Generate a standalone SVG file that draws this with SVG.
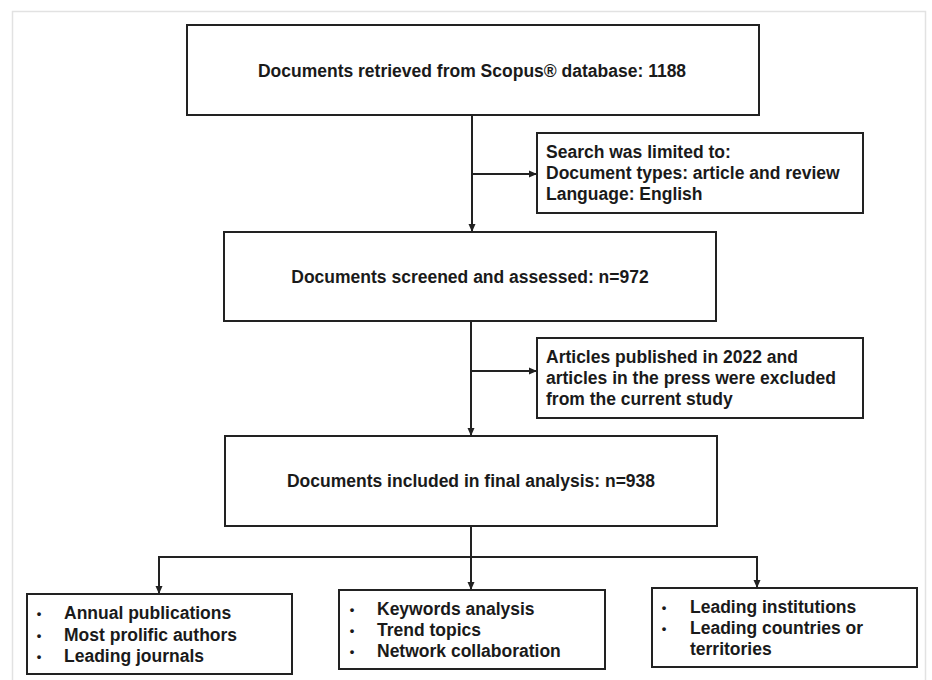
<svg xmlns="http://www.w3.org/2000/svg" width="932" height="680" viewBox="0 0 932 680">
  <defs>
    <style>
      .box { fill: #ffffff; stroke: #222222; stroke-width: 2; }
      .txt { font-family: "Liberation Sans", Arial, sans-serif; font-weight: bold; font-size: 17.5px; fill: #1a1a1a; }
      .mid { text-anchor: middle; }
      .bul { font-family: "Liberation Sans", Arial, sans-serif; font-weight: bold; font-size: 13px; fill: #1a1a1a; text-anchor: middle; }
      .conn { fill: none; stroke: #222222; stroke-width: 2; }
      .frame { fill: none; stroke: #e2e2e2; stroke-width: 1.5; }
    </style>
    <marker id="arrow" viewBox="0 0 8 8" refX="8" refY="4" markerWidth="8" markerHeight="8" markerUnits="userSpaceOnUse" orient="auto">
      <path d="M0,0.5 L8,4 L0,7.5 z" fill="#222222"/>
    </marker>
  </defs>

  <rect width="932" height="680" fill="#ffffff"/>
  <rect class="frame" x="12.5" y="11.5" width="913" height="700"/>

  <g id="connectors">
    <line class="conn" x1="472" y1="115" x2="472" y2="232" marker-end="url(#arrow)"/>
    <line class="conn" x1="472" y1="174" x2="537" y2="174" marker-end="url(#arrow)"/>
    <line class="conn" x1="471" y1="321" x2="471" y2="436" marker-end="url(#arrow)"/>
    <line class="conn" x1="471" y1="371" x2="537" y2="371" marker-end="url(#arrow)"/>
    <line class="conn" x1="471" y1="526" x2="471" y2="590" marker-end="url(#arrow)"/>
    <line class="conn" x1="159" y1="557" x2="757" y2="557"/>
    <line class="conn" x1="159" y1="556" x2="159" y2="594" marker-end="url(#arrow)"/>
    <line class="conn" x1="757" y1="556" x2="757" y2="588" marker-end="url(#arrow)"/>
  </g>

  <g id="retrieved">
    <rect class="box" x="187" y="25" width="572" height="90"/>
    <text class="txt mid" x="472" y="76.5">Documents retrieved from Scopus® database: 1188</text>
  </g>

  <g id="limits">
    <rect class="box" x="537" y="133" width="326" height="80"/>
    <text class="txt" x="546" y="158">Search was limited to:</text>
    <text class="txt" x="546" y="179">Document types: article and review</text>
    <text class="txt" x="546" y="200">Language: English</text>
  </g>

  <g id="screened">
    <rect class="box" x="224" y="232" width="492" height="89"/>
    <text class="txt mid" x="470" y="283">Documents screened and assessed: n=972</text>
  </g>

  <g id="excluded">
    <rect class="box" x="537" y="338" width="326" height="80"/>
    <text class="txt" x="546" y="363">Articles published in 2022 and</text>
    <text class="txt" x="546" y="384">articles in the press were excluded</text>
    <text class="txt" x="546" y="405">from the current study</text>
  </g>

  <g id="included">
    <rect class="box" x="225" y="436" width="492" height="90"/>
    <text class="txt mid" x="471" y="487">Documents included in final analysis: n=938</text>
  </g>

  <g id="output-left">
    <rect class="box" x="27" y="594" width="265" height="80"/>
    <text class="bul" x="39" y="618">•</text>
    <text class="txt" x="64" y="619">Annual publications</text>
    <text class="bul" x="39" y="639.5">•</text>
    <text class="txt" x="64" y="640.5">Most prolific authors</text>
    <text class="bul" x="39" y="661">•</text>
    <text class="txt" x="64" y="662">Leading journals</text>
  </g>

  <g id="output-middle">
    <rect class="box" x="339" y="590" width="266" height="79"/>
    <text class="bul" x="352" y="614">•</text>
    <text class="txt" x="377" y="615">Keywords analysis</text>
    <text class="bul" x="352" y="635">•</text>
    <text class="txt" x="377" y="636">Trend topics</text>
    <text class="bul" x="352" y="656">•</text>
    <text class="txt" x="377" y="657">Network collaboration</text>
  </g>

  <g id="output-right">
    <rect class="box" x="652" y="588" width="265" height="79"/>
    <text class="bul" x="664" y="612">•</text>
    <text class="txt" x="690" y="613">Leading institutions</text>
    <text class="bul" x="664" y="633">•</text>
    <text class="txt" x="690" y="634">Leading countries or</text>
    <text class="txt" x="690" y="655">territories</text>
  </g>
</svg>
